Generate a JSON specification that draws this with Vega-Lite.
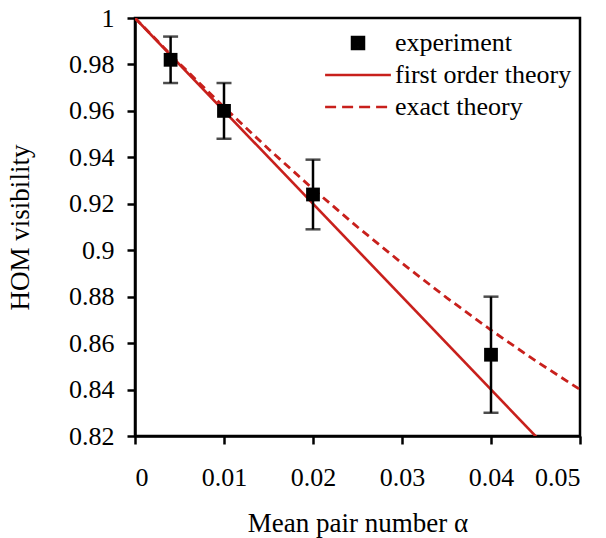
{
  "$schema": "https://vega.github.io/schema/vega-lite/v6.json",
  "width": 445,
  "height": 418,
  "autosize": {"type": "none"},
  "padding": {"left": 135, "top": 18, "right": 26, "bottom": 102},
  "background": "white",
  "config": {
    "font": "Liberation Serif",
    "view": {"stroke": "black", "strokeWidth": 2.5},
    "axis": {
      "grid": false,
      "domainColor": "black",
      "domainWidth": 2.5,
      "tickColor": "black",
      "tickWidth": 2.5,
      "tickSize": 8,
      "labelFont": "Liberation Serif",
      "labelFontSize": 26,
      "labelColor": "black",
      "titleFont": "Liberation Serif",
      "titleFontSize": 27,
      "titleFontWeight": "normal",
      "titleColor": "black"
    },
    "legend": {
      "labelFont": "Liberation Serif",
      "labelFontSize": 26,
      "labelColor": "black"
    }
  },
  "datasets": {
    "exp": [
      {"alpha": 0.004, "V": 0.982, "lo": 0.972, "hi": 0.992, "series": "experiment"},
      {"alpha": 0.01, "V": 0.960, "lo": 0.948, "hi": 0.972, "series": "experiment"},
      {"alpha": 0.02, "V": 0.924, "lo": 0.909, "hi": 0.939, "series": "experiment"},
      {"alpha": 0.04, "V": 0.855, "lo": 0.830, "hi": 0.880, "series": "experiment"}
    ],
    "theory": [
      {"alpha": 0, "V": 1.0, "series": "first order theory"},
      {"alpha": 0.0455, "V": 0.818, "series": "first order theory"},
      {"alpha": 0, "V": 1.0, "series": "exact theory"},
      {"alpha": 0.005, "V": 0.9804, "series": "exact theory"},
      {"alpha": 0.01, "V": 0.9616, "series": "exact theory"},
      {"alpha": 0.015, "V": 0.9436, "series": "exact theory"},
      {"alpha": 0.02, "V": 0.9264, "series": "exact theory"},
      {"alpha": 0.025, "V": 0.910, "series": "exact theory"},
      {"alpha": 0.03, "V": 0.8944, "series": "exact theory"},
      {"alpha": 0.035, "V": 0.8796, "series": "exact theory"},
      {"alpha": 0.04, "V": 0.8656, "series": "exact theory"},
      {"alpha": 0.045, "V": 0.8524, "series": "exact theory"},
      {"alpha": 0.05, "V": 0.840, "series": "exact theory"}
    ],
    "legendItems": [
      {"series": "experiment"},
      {"series": "first order theory"},
      {"series": "exact theory"}
    ]
  },
  "encoding": {
    "x": {
      "field": "alpha", "type": "quantitative",
      "scale": {"domain": [0, 0.05], "nice": false, "zero": false},
      "axis": {"values": [0, 0.01, 0.02, 0.03, 0.04, 0.05], "format": "~g", "labelPadding": 20, "title": "Mean pair number α", "titlePadding": 20}
    },
    "y": {
      "field": "V", "type": "quantitative",
      "scale": {"domain": [0.82, 1], "nice": false, "zero": false},
      "axis": {"values": [0.82, 0.84, 0.86, 0.88, 0.9, 0.92, 0.94, 0.96, 0.98, 1], "format": "~g", "labelPadding": 13, "title": "HOM visibility", "titlePadding": 34}
    }
  },
  "layer": [
    {
      "data": {"name": "theory"},
      "transform": [{"filter": "datum.series === 'first order theory'"}],
      "mark": {"type": "line", "strokeWidth": 2.6, "clip": true, "color": "#c8201c"},
      "encoding": {}
    },
    {
      "data": {"name": "theory"},
      "transform": [{"filter": "datum.series === 'exact theory'"}],
      "mark": {"type": "line", "strokeWidth": 2.8, "clip": true, "color": "#c8201c", "strokeDash": [8, 5]},
      "encoding": {}
    },
    {
      "data": {"name": "exp"},
      "mark": {"type": "rule", "color": "black", "strokeWidth": 2.5},
      "encoding": {"y": {"field": "lo", "type": "quantitative"}, "y2": {"field": "hi"}}
    },
    {
      "data": {"name": "exp"},
      "mark": {"type": "tick", "orient": "horizontal", "color": "black", "size": 15, "thickness": 2.5},
      "encoding": {"y": {"field": "lo", "type": "quantitative"}}
    },
    {
      "data": {"name": "exp"},
      "mark": {"type": "tick", "orient": "horizontal", "color": "black", "size": 15, "thickness": 2.5},
      "encoding": {"y": {"field": "hi", "type": "quantitative"}}
    },
    {
      "data": {"name": "exp"},
      "mark": {"type": "point", "shape": "square", "filled": true, "opacity": 1, "size": 190, "color": "black"},
      "encoding": {}
    },
    {
      "data": {"name": "legendItems"},
      "mark": {"type": "point", "opacity": 0},
      "encoding": {
        "x": {"datum": 0},
        "y": {"datum": 1},
        "color": {
          "field": "series", "type": "nominal",
          "scale": {"domain": ["experiment", "first order theory", "exact theory"], "range": ["black", "#c8201c", "#c8201c"]},
          "legend": {"title": null, "orient": "none", "legendX": 210, "legendY": 12, "symbolSize": 196, "symbolStrokeWidth": 2.6, "symbolOpacity": 1, "labelOffset": 24, "rowPadding": 6, "labelLimit": 300}
        },
        "shape": {
          "field": "series", "type": "nominal",
          "scale": {"domain": ["experiment", "first order theory", "exact theory"], "range": ["M-0.85,-0.85H0.85V0.85H-0.85Z M-0.52,-0.52H0.52V0.52H-0.52Z M-0.2,-0.2H0.2V0.2H-0.2Z", "M-4.7,0H4.7", "M-4.7,0H4.7"]},
          "legend": {"title": null, "orient": "none", "legendX": 210, "legendY": 12, "symbolSize": 196, "symbolStrokeWidth": 2.6, "symbolOpacity": 1, "labelOffset": 24, "rowPadding": 6, "labelLimit": 300}
        },
        "strokeDash": {
          "field": "series", "type": "nominal",
          "scale": {"domain": ["experiment", "first order theory", "exact theory"], "range": [[1, 0], [1, 0], [11, 6]]},
          "legend": {"title": null, "orient": "none", "legendX": 210, "legendY": 12, "symbolSize": 196, "symbolStrokeWidth": 2.6, "symbolOpacity": 1, "labelOffset": 24, "rowPadding": 6, "labelLimit": 300}
        }
      }
    }
  ]
}
